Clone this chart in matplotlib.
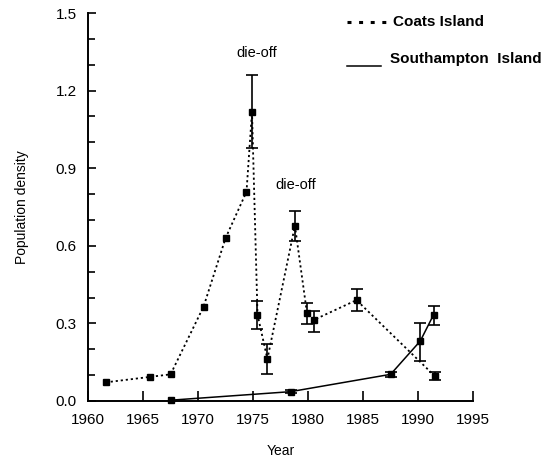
import matplotlib.pyplot as plt
from matplotlib.lines import Line2D
from matplotlib.ticker import MultipleLocator

plt.rcParams["font.family"] = ["Liberation Sans", "DejaVu Sans"]

# Coats Island (dotted line)
coats_year = [1961.6, 1965.6, 1967.5, 1970.5, 1972.5, 1974.4, 1974.9, 1975.4,
              1976.3, 1978.8, 1979.9, 1980.5, 1984.4, 1991.5]
coats_val = [0.072, 0.093, 0.103, 0.365, 0.630, 0.809, 1.118, 0.334,
             0.162, 0.678, 0.339, 0.313, 0.390, 0.097]
coats_lo = [0, 0, 0, 0, 0, 0, 0.141, 0.056, 0.058, 0.060, 0.043, 0.045, 0.041, 0.016]
coats_hi = [0, 0, 0, 0, 0, 0, 0.142, 0.054, 0.058, 0.056, 0.041, 0.036, 0.042, 0.016]

# Southampton Island (solid line)
south_year = [1967.5, 1978.4, 1987.5, 1990.2, 1991.4]
south_val = [0.003, 0.036, 0.103, 0.232, 0.333]
south_lo = [0, 0.006, 0.010, 0.076, 0.039]
south_hi = [0, 0.006, 0.010, 0.071, 0.035]

fig = plt.figure(figsize=(5.54, 4.58), dpi=100)
ax = fig.add_axes([0.159, 0.1245, 0.695, 0.8471])

DOTS = (0, (1.2, 1.6))


def draw_series(years, vals, lo, hi, style, lw):
    ax.plot(years, vals, color="black", linestyle=style, lw=lw, marker="s",
            ms=4.5, clip_on=False)
    # error bars only where the survey gave an interval
    idx = [i for i in range(len(years)) if lo[i] > 0 or hi[i] > 0]
    ax.errorbar([years[i] for i in idx], [vals[i] for i in idx],
                yerr=[[lo[i] for i in idx], [hi[i] for i in idx]],
                fmt="none", ecolor="black", elinewidth=1.2, capsize=4.5,
                capthick=1.2, clip_on=False)


draw_series(coats_year, coats_val, coats_lo, coats_hi, DOTS, 1.3)
draw_series(south_year, south_val, south_lo, south_hi, "-", 1.1)

ax.set_xlim(1960, 1995)
ax.set_ylim(0, 1.5)
ax.xaxis.set_major_locator(MultipleLocator(5))
ax.yaxis.set_major_locator(MultipleLocator(0.3))
ax.yaxis.set_minor_locator(MultipleLocator(0.1))
ax.yaxis.set_major_formatter(plt.FormatStrFormatter("%.1f"))
ax.tick_params(axis="both", direction="in", labelsize=11, width=1.2)
ax.tick_params(axis="x", length=7, pad=9)
ax.tick_params(axis="y", which="major", length=6, pad=8)
ax.tick_params(axis="y", which="minor", length=5, width=1.2, direction="in")

for side in ["top", "right"]:
    ax.spines[side].set_visible(False)
for side in ["left", "bottom"]:
    ax.spines[side].set_linewidth(1.4)

ax.set_xlabel("Year", fontsize=10, labelpad=12)
ax.set_ylabel("Population density", fontsize=10, labelpad=19)

ax.text(1975.3, 1.345, "die-off", ha="center", va="center", fontsize=10.5)
ax.text(1978.9, 0.835, "die-off", ha="center", va="center", fontsize=10.5)

# legend drawn by hand, as in the original figure
fig.add_artist(Line2D([347 / 554, 389 / 554], [1 - 22 / 458, 1 - 22 / 458],
                      color="black", lw=2.2, linestyle=(0, (1.3, 2.5))))
fig.text(393 / 554, 1 - 22 / 458, "Coats Island", fontsize=11,
         fontweight="bold", va="center")
fig.add_artist(Line2D([347 / 554, 381 / 554], [1 - 66 / 458, 1 - 66 / 458],
                      color="black", lw=1.1))
fig.text(390 / 554, 1 - 59 / 458, "Southampton  Island", fontsize=11,
         fontweight="bold", va="center")

fig.savefig("out.png", dpi=100)
